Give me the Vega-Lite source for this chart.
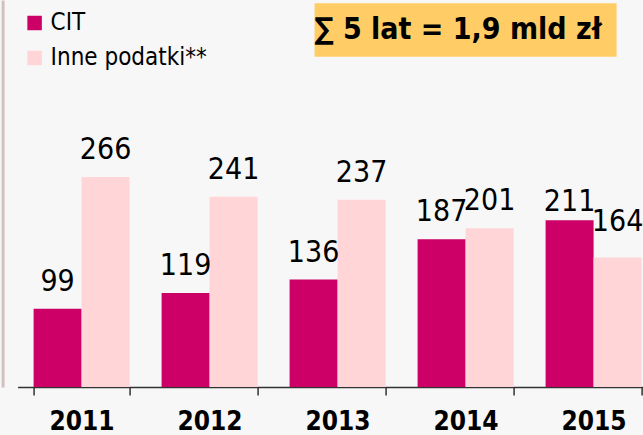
{
  "$schema": "https://vega.github.io/schema/vega-lite/v6.json",
  "width": 625,
  "height": 387,
  "autosize": {"type": "none"},
  "padding": {"left": 17.6, "top": 0, "right": 0, "bottom": 48},
  "background": "#F7F7F7",
  "config": {
    "view": {"stroke": null},
    "font": "Liberation Sans Narrow, DejaVu Sans Condensed, Liberation Sans"
  },
  "datasets": {
    "taxes": [
      {"year": "2011", "series": "CIT", "value": 99},
      {"year": "2011", "series": "Inne podatki**", "value": 266},
      {"year": "2012", "series": "CIT", "value": 119},
      {"year": "2012", "series": "Inne podatki**", "value": 241},
      {"year": "2013", "series": "CIT", "value": 136},
      {"year": "2013", "series": "Inne podatki**", "value": 237},
      {"year": "2014", "series": "CIT", "value": 187},
      {"year": "2014", "series": "Inne podatki**", "value": 201},
      {"year": "2015", "series": "CIT", "value": 211},
      {"year": "2015", "series": "Inne podatki**", "value": 164}
    ],
    "note": [{"label": "∑ 5 lat = 1,9 mld zł"}]
  },
  "encoding": {
    "x": {
      "field": "year",
      "type": "nominal",
      "scale": {"paddingInner": 0.25, "paddingOuter": 0.125, "range": [0, 640]},
      "axis": {
        "title": null,
        "labelAngle": 0,
        "domainColor": "#333333",
        "domainWidth": 1.5,
        "tickColor": "#333333",
        "tickWidth": 1.5,
        "tickSize": 8,
        "tickBand": "extent",
        "labelFontSize": 26,
        "labelFontWeight": "bold",
        "labelColor": "#000000",
        "labelPadding": 14
      }
    },
    "y": {
      "type": "quantitative",
      "scale": {"domain": [0, 490], "nice": false},
      "axis": {
        "title": null,
        "labels": false,
        "ticks": false,
        "grid": false,
        "domain": true,
        "domainColor": "#D4C0C0",
        "domainWidth": 3,
        "offset": 15
      }
    }
  },
  "layer": [
    {
      "data": {"name": "taxes"},
      "mark": {"type": "bar"},
      "encoding": {
        "xOffset": {"field": "series", "type": "nominal", "sort": ["CIT", "Inne podatki**"]},
        "y": {"field": "value", "type": "quantitative"},
        "color": {
          "field": "series",
          "type": "nominal",
          "scale": {"domain": ["CIT", "Inne podatki**"], "range": ["#CC0066", "#FFD5D8"]},
          "legend": {
            "title": null,
            "orient": "none",
            "legendX": 5,
            "legendY": 11,
            "symbolType": "square",
            "symbolSize": 210,
            "symbolStrokeWidth": 0,
            "symbolOpacity": 1,
            "labelFontSize": 24,
            "labelColor": "#000000",
            "labelOffset": 4,
            "rowPadding": 11,
            "padding": 0
          }
        }
      }
    },
    {
      "data": {"name": "taxes"},
      "transform": [{"filter": "datum.year != '2015'"}],
      "mark": {"type": "text", "fontSize": 30, "color": "#000000", "baseline": "alphabetic", "dy": -18},
      "encoding": {
        "xOffset": {"field": "series", "type": "nominal", "sort": ["CIT", "Inne podatki**"]},
        "y": {"field": "value", "type": "quantitative"},
        "text": {"field": "value", "type": "quantitative"}
      }
    },
    {
      "data": {"name": "taxes"},
      "transform": [{"filter": "datum.year == '2015' && datum.series == 'CIT'"}],
      "mark": {"type": "text", "fontSize": 30, "color": "#000000", "baseline": "alphabetic", "dy": -9},
      "encoding": {
        "xOffset": {"field": "series", "type": "nominal", "sort": ["CIT", "Inne podatki**"]},
        "y": {"field": "value", "type": "quantitative"},
        "text": {"field": "value", "type": "quantitative"}
      }
    },
    {
      "data": {"name": "taxes"},
      "transform": [{"filter": "datum.year == '2015' && datum.series != 'CIT'"}],
      "mark": {"type": "text", "fontSize": 30, "color": "#000000", "baseline": "alphabetic", "dy": -26},
      "encoding": {
        "xOffset": {"field": "series", "type": "nominal", "sort": ["CIT", "Inne podatki**"]},
        "y": {"field": "value", "type": "quantitative"},
        "text": {"field": "value", "type": "quantitative"}
      }
    },
    {
      "data": {"name": "note"},
      "mark": {"type": "bar", "color": "#FFCC66", "width": 302},
      "encoding": {
        "x": {"datum": "2014", "bandPosition": 0.42},
        "y": {"datum": 486},
        "y2": {"datum": 418}
      }
    },
    {
      "data": {"name": "note"},
      "mark": {"type": "text", "fontSize": 30, "fontWeight": "bold", "color": "#000000", "baseline": "middle", "align": "center"},
      "encoding": {
        "x": {"datum": "2014", "bandPosition": 0.42},
        "y": {"datum": 452},
        "text": {"field": "label"}
      }
    }
  ]
}
